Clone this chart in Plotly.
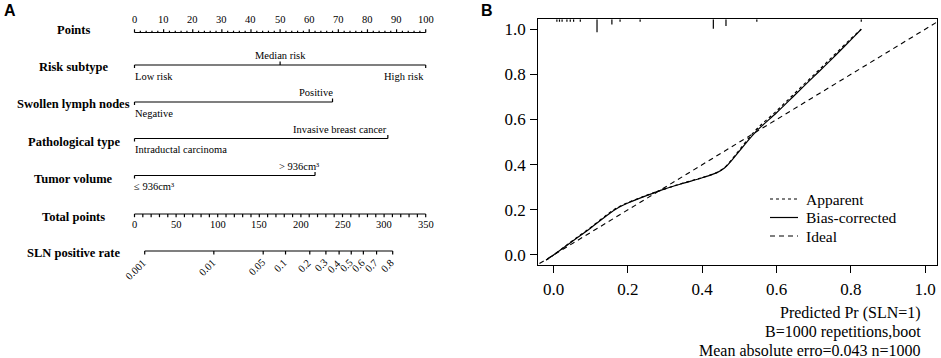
import numpy as np
import plotly.graph_objects as go

W, H = 941, 358

# ---------------- Panel A: nomogram data ----------------
points_major = list(range(0, 101, 10))
points_minor = list(range(0, 101, 2))
risk_levels = ["Low risk", "Median risk", "High risk"]
risk_points = [0, 50, 100]
lymph_levels = ["Negative", "Positive"]
lymph_points = [0, 68]
path_levels = ["Intraductal carcinoma", "Invasive breast cancer"]
path_points = [0, 87]
tumor_levels = ["≤ 936cm³", "> 936cm³"]
tumor_points = [0, 62]
total_major = list(range(0, 351, 50))
total_minor = list(range(0, 351, 10))
total_max = 350
sln_probs = [0.001, 0.01, 0.05, 0.1, 0.2, 0.3, 0.4, 0.5, 0.6, 0.7, 0.8]
sln_labels = ["0.001", "0.01", "0.05", "0.1", "0.2", "0.3", "0.4", "0.5", "0.6", "0.7", "0.8"]
tp_at_logit0 = 260.5      # total points where linear predictor = 0
tp_per_logit = 35.94      # total points per unit of logit

# ---------------- Panel B: calibration data ----------------
cal_x = [-0.02, 0.0, 0.05, 0.10, 0.15, 0.175, 0.20, 0.25, 0.30, 0.35, 0.40, 0.44, 0.46, 0.48,
         0.50, 0.52, 0.55, 0.60, 0.65, 0.70, 0.75, 0.80, 0.828]
bias_y = [-0.022, 0.0, 0.06, 0.12, 0.183, 0.21, 0.23, 0.263, 0.293, 0.318, 0.342, 0.365, 0.385, 0.42,
          0.46, 0.50, 0.555, 0.63, 0.71, 0.79, 0.87, 0.953, 1.0]
app_y = [-0.022, 0.0, 0.062, 0.122, 0.186, 0.213, 0.232, 0.264, 0.293, 0.319, 0.343, 0.366, 0.387, 0.424,
         0.465, 0.507, 0.563, 0.638, 0.718, 0.797, 0.877, 0.958, 1.0]
ideal = [-0.1, 1.1]
rug_x = [0.009, 0.016, 0.023, 0.036, 0.045, 0.054, 0.072, 0.117, 0.157, 0.179, 0.233,
         0.43, 0.464, 0.547, 0.828]
rug_count = [1, 1, 1, 1, 1, 1, 1, 5.5, 2.2, 1, 1, 4, 2.8, 1, 1]

# ---------------- layout helpers ----------------
SERIF = "Liberation Serif"
BLACK = "black"

def logit(p):
    return np.log(p / (1 - p))

def tp_to_points(tp):
    return np.asarray(tp) * 100.0 / total_max

def px(xp):
    return xp / W

def py(yp):
    return 1 - yp / H

fig = go.Figure()
annos = []
shapes = []

# rows (pixel y positions in panel A)
ROW_POINTS, ROW_RISK, ROW_LYMPH, ROW_PATH, ROW_TUMOR, ROW_TOTAL, ROW_SLN = 32.5, 65, 102, 138.5, 175.5, 214, 251
LABEL_X = (73.5 - 134.5) / 2.912

def seg_trace(xs, ys, width=1.2):
    fig.add_trace(go.Scatter(x=xs, y=ys, mode="lines", line=dict(color=BLACK, width=width),
                             xaxis="x", yaxis="y", hoverinfo="skip", showlegend=False))

def row_label(text, y):
    annos.append(dict(x=LABEL_X, y=y, xref="x", yref="y", text="<b>%s</b>" % text, showarrow=False,
                      xanchor="center", yanchor="middle", font=dict(family=SERIF, size=12.5, color=BLACK)))

def small_text(text, x, y, xanchor="center", xshift=0, size=10.5, xref="x", angle=0, yanchor="middle"):
    annos.append(dict(x=x, y=y, xref=xref, yref="y", text=text, showarrow=False, xanchor=xanchor,
                      yanchor=yanchor, xshift=xshift, textangle=angle,
                      font=dict(family=SERIF, size=size, color=BLACK)))

# Points axis
xs, ys = [0, 100, None], [ROW_POINTS, ROW_POINTS, None]
for v in points_minor:
    h = 3.2 if v in points_major else 1.8
    xs += [v, v, None]; ys += [ROW_POINTS, ROW_POINTS - h, None]
seg_trace(xs, ys)
for v in points_major:
    small_text(str(v), v, 19.5)
row_label("Points", 30)

# categorical variables
def cat_row(levels, pts, y, label, label_y, anchors, shifts):
    xs, ys = [min(pts), max(pts), None], [y, y, None]
    for i, p in enumerate(pts):
        d = 3 if i % 2 == 0 else -3.5
        xs += [p, p, None]; ys += [y, y + d, None]
    seg_trace(xs, ys)
    for i, (lev, p) in enumerate(zip(levels, pts)):
        ty = y + 11 if i % 2 == 0 else y - 9.5
        small_text(lev, p, ty, xanchor=anchors[i], xshift=shifts[i])
    row_label(label, label_y)

cat_row(risk_levels, risk_points, ROW_RISK, "Risk subtype", 66.5, ["left", "center", "right"], [-2, 0, 0])
cat_row(lymph_levels, lymph_points, ROW_LYMPH, "Swollen lymph nodes", 104.3, ["left", "right"], [-1.5, 2])
cat_row(path_levels, path_points, ROW_PATH, "Pathological type", 142.3, ["left", "right"], [-1.5, 1])
cat_row(tumor_levels, tumor_points, ROW_TUMOR, "Tumor volume", 179, ["left", "right"], [-3, 6])

# Total points axis
xs, ys = [0, tp_to_points(total_max), None], [ROW_TOTAL, ROW_TOTAL, None]
for v in total_minor:
    h = 3.2
    xs += [tp_to_points(v), tp_to_points(v), None]; ys += [ROW_TOTAL, ROW_TOTAL + h, None]
seg_trace(xs, ys)
for v in total_major:
    small_text(str(v), tp_to_points(v), 224.5)
row_label("Total points", 216.7)

# SLN positive rate axis
sln_pos = tp_to_points(tp_at_logit0 + tp_per_logit * logit(np.array(sln_probs)))
xs, ys = [sln_pos[0], sln_pos[-1], None], [ROW_SLN, ROW_SLN, None]
for v in sln_pos:
    xs += [v, v, None]; ys += [ROW_SLN, ROW_SLN + 3.5, None]
seg_trace(xs, ys)
for lab, v in zip(sln_labels, sln_pos):
    small_text(lab, v, ROW_SLN + 3.5, xanchor="right", xshift=6.5, angle=-45, yanchor="top")
row_label("SLN positive rate", 253.3)

# ---------------- Panel B traces ----------------
fig.add_trace(go.Scatter(x=ideal, y=ideal, mode="lines", xaxis="x2", yaxis="y2",
                         line=dict(color=BLACK, width=1.1, dash="5px,4px"), showlegend=False, hoverinfo="skip"))
fig.add_trace(go.Scatter(x=cal_x, y=app_y, mode="lines", xaxis="x2", yaxis="y2", line_shape="spline",
                         line=dict(color=BLACK, width=1.2, dash="dot"), showlegend=False, hoverinfo="skip"))
fig.add_trace(go.Scatter(x=cal_x, y=bias_y, mode="lines", xaxis="x2", yaxis="y2", line_shape="spline",
                         line=dict(color=BLACK, width=1.2), showlegend=False, hoverinfo="skip"))

Y2_RANGE = [-0.043, 1.044]
X2_RANGE = [-0.041, 1.031]
rug_unit = 0.0105
rx, ry = [], []
for x, c in zip(rug_x, rug_count):
    rx += [x, x, None]; ry += [Y2_RANGE[1], Y2_RANGE[1] - c * rug_unit, None]
fig.add_trace(go.Scatter(x=rx, y=ry, mode="lines", xaxis="x2", yaxis="y2",
                         line=dict(color=BLACK, width=1.2), showlegend=False, hoverinfo="skip"))

# legend (manual)
leg_items = [("Apparent", "dot", 199), ("Bias-corrected", "solid", 217.5), ("Ideal", "5px,4px", 236)]
for name, dash, yp in leg_items:
    shapes.append(dict(type="line", xref="paper", yref="paper", x0=px(770), x1=px(798), y0=py(yp), y1=py(yp),
                       line=dict(color=BLACK, width=1.2, dash=dash)))
    annos.append(dict(x=px(804), y=py(yp), xref="paper", yref="paper", text=name, showarrow=False,
                      xanchor="left", yanchor="middle", font=dict(family=SERIF, size=15.5, color=BLACK)))

# bottom texts
for txt, yp in [("Predicted Pr (SLN=1)", 313), ("B=1000 repetitions,boot", 331.7),
                ("Mean absolute erro=0.043 n=1000", 350)]:
    annos.append(dict(x=px(923), y=py(yp), xref="paper", yref="paper", text=txt, showarrow=False,
                      xanchor="right", yanchor="middle", font=dict(family=SERIF, size=16, color=BLACK)))

# panel letters
for letter, xp, yp in [("A", 10, 10.5), ("B", 486.5, 10.5)]:
    annos.append(dict(x=px(xp), y=py(yp), xref="paper", yref="paper", text="<b>%s</b>" % letter,
                      showarrow=False, xanchor="center", yanchor="middle",
                      font=dict(family="Liberation Sans", size=16, color=BLACK)))

ax2 = dict(showline=True, mirror=True, linecolor=BLACK, linewidth=1.4, ticks="outside", ticklen=7,
           tickwidth=1.2, tickcolor=BLACK, showgrid=False, zeroline=False, tickformat=".1f",
           tickvals=[0, 0.2, 0.4, 0.6, 0.8, 1.0], tickfont=dict(family=SERIF, size=17, color=BLACK))

fig.update_layout(
    width=W, height=H, margin=dict(l=0, r=0, t=0, b=0),
    paper_bgcolor="white", plot_bgcolor="white",
    xaxis=dict(domain=[0, 470 / W], range=[-134.5 / 2.912, (470 - 134.5) / 2.912], visible=False, anchor="y"),
    yaxis=dict(domain=[0, 1], range=[H, 0], visible=False, anchor="x"),
    xaxis2=dict(domain=[px(538.3), px(936.7)], range=X2_RANGE, anchor="y2", ticklabelstandoff=2, **ax2),
    yaxis2=dict(domain=[py(264.7), py(19.3)], range=Y2_RANGE, anchor="x2", ticklabelstandoff=1, **ax2),
    annotations=annos, shapes=shapes,
)

fig.write_html("out.html", config={"displayModeBar": False},
               post_script="document.body.style.margin='0';document.body.style.overflow='hidden';")
